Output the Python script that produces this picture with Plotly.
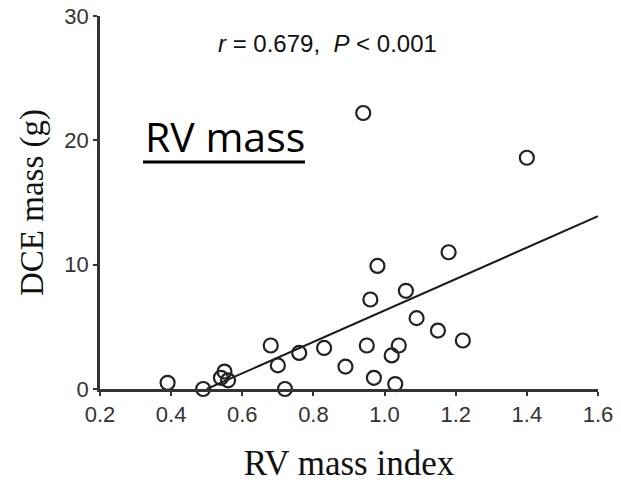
import plotly.graph_objects as go

# Data
rv_mass_index = [0.39, 0.49, 0.54, 0.55, 0.56, 0.68, 0.70, 0.72, 0.76, 0.83, 0.89,
                 0.94, 0.95, 0.96, 0.97, 0.98, 1.02, 1.03, 1.04, 1.06, 1.09, 1.15,
                 1.18, 1.22, 1.40]
dce_mass = [0.5, 0.0, 0.9, 1.4, 0.7, 3.5, 1.9, 0.0, 2.9, 3.3, 1.8,
            22.2, 3.5, 7.2, 0.9, 9.9, 2.7, 0.4, 3.5, 7.9, 5.7, 4.7,
            11.0, 3.9, 18.6]

# Regression line endpoints
fit_x = [0.50, 1.60]
fit_y = [0.0, 13.9]

x_ticks = [0.2, 0.4, 0.6, 0.8, 1.0, 1.2, 1.4, 1.6]
x_ticktext = ["0.2", "0.4", "0.6", "0.8", "1.0", "1.2", "1.4", "1.6"]
y_ticks = [0, 10, 20, 30]
y_ticktext = ["0", "10", "20", "30"]

stat_text = "<i>r</i> = 0.679,  <i>P</i> &lt; 0.001"
panel_label = "RV mass"

fig = go.Figure()
fig.add_trace(go.Scatter(
    x=fit_x, y=fit_y, mode="lines",
    line=dict(color="#1a1a1a", width=2),
    showlegend=False, hoverinfo="skip",
))
fig.add_trace(go.Scatter(
    x=rv_mass_index, y=dce_mass, mode="markers",
    marker=dict(symbol="circle-open", size=14, color="#222222",
                line=dict(width=2.2, color="#222222")),
    cliponaxis=False, showlegend=False,
))

axis_common = dict(
    showline=True, linecolor="#333333", linewidth=2.5,
    ticks="outside", ticklen=4, tickwidth=1.5, tickcolor="#333333",
    showgrid=False, zeroline=False, automargin=False,
    tickfont=dict(family="Liberation Sans, Arial, sans-serif", size=22, color="#333333"),
)

fig.update_layout(
    width=621, height=483,
    margin=dict(l=100, r=23, t=16, b=94),
    paper_bgcolor="white", plot_bgcolor="white",
    xaxis=dict(range=[0.2, 1.6], tickvals=x_ticks, ticktext=x_ticktext,
               title=dict(text="RV mass index", standoff=33,
                          font=dict(family="Liberation Serif, Times New Roman, serif",
                                    size=35, color="#111111")),
               **axis_common),
    yaxis=dict(range=[0, 30], tickvals=y_ticks, ticktext=y_ticktext,
               title=dict(text="DCE mass (g)", standoff=11,
                          font=dict(family="Liberation Serif, Times New Roman, serif",
                                    size=33, color="#111111")),
               **axis_common),
    annotations=[
        dict(text=stat_text, xref="paper", yref="paper", x=0.456, y=0.925,
             xanchor="center", yanchor="middle", showarrow=False,
             font=dict(family="Liberation Sans, Arial, sans-serif", size=24, color="#111111")),
        dict(text=panel_label, xref="paper", yref="paper", x=0.086, y=0.677,
             xanchor="left", yanchor="middle", showarrow=False,
             font=dict(family="Open Sans, sans-serif", size=41, color="#000000")),
    ],
    shapes=[
        dict(type="line", xref="paper", yref="paper",
             x0=0.0863, x1=0.4116, y0=0.6086, y1=0.6086,
             line=dict(color="#000000", width=3)),
    ],
)

fig.write_html("out.html")
